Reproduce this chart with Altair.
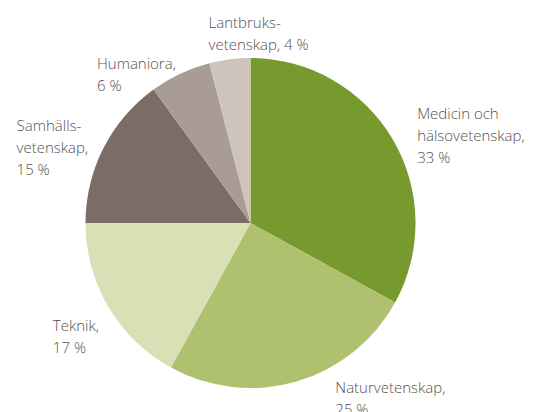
import altair as alt
import pandas as pd

categories = ["Medicin och hälsovetenskap", "Naturvetenskap", "Teknik",
              "Samhällsvetenskap", "Humaniora", "Lantbruksvetenskap"]
shares = [33, 25, 17, 15, 6, 4]
labels = ["Medicin och\nhälsovetenskap,\n33 %", "Naturvetenskap,\n25 %", "Teknik,\n17 %",
          "Samhälls-\nvetenskap,\n15 %", "Humaniora,\n6 %", "Lantbruks-\nvetenskap, 4 %"]
colors = ["#779a2f", "#afc06e", "#d9e0b6", "#7b6d66", "#a99c94", "#cec4bc"]

# label offsets (dx, dy) from the mid-angle anchor at the label radius
label_offsets = [(16, -15), (36, 2), (-47, 19), (-78, -13), (-79, 4), (-20, -21)]

df = pd.DataFrame({"category": categories, "share": shares, "label": labels,
                   "idx": list(range(len(categories)))})

CX, CY = 242.5, 215
R = 165
theta_scale = alt.Scale(domain=[0, 100])

pie = alt.Chart(df).mark_arc(outerRadius=R).encode(
    theta=alt.Theta("share:Q", stack=True, scale=theta_scale),
    color=alt.Color("category:N", scale=alt.Scale(domain=categories, range=colors), legend=None),
    order=alt.Order("idx:Q"),
    x=alt.value(CX), y=alt.value(CY),
)

base_text = alt.Chart(df).transform_window(
    cum="sum(share)", sort=[alt.SortField("idx")], frame=[None, 0]
).transform_calculate(mid="datum.cum - datum.share / 2")

layers = []
for cat, (dx, dy) in zip(categories, label_offsets):
    layers.append(
        base_text.transform_filter(alt.datum.category == cat).mark_text(
            radius=175, dx=dx, dy=dy, align="left", baseline="alphabetic",
            lineBreak="\n", lineHeight=22, font="Open Sans", fontSize=15,
            fontWeight=300, color="#57514e"
        ).encode(
            theta=alt.Theta("mid:Q", stack=False, scale=theta_scale),
            text="label:N",
            x=alt.value(CX), y=alt.value(CY),
        )
    )

chart = alt.layer(pie, *layers).properties(
    width=519, height=404, autosize="none", padding=0
).configure_view(stroke=None)

chart.save("out.html", embed_options={"renderer": "svg", "actions": False})
